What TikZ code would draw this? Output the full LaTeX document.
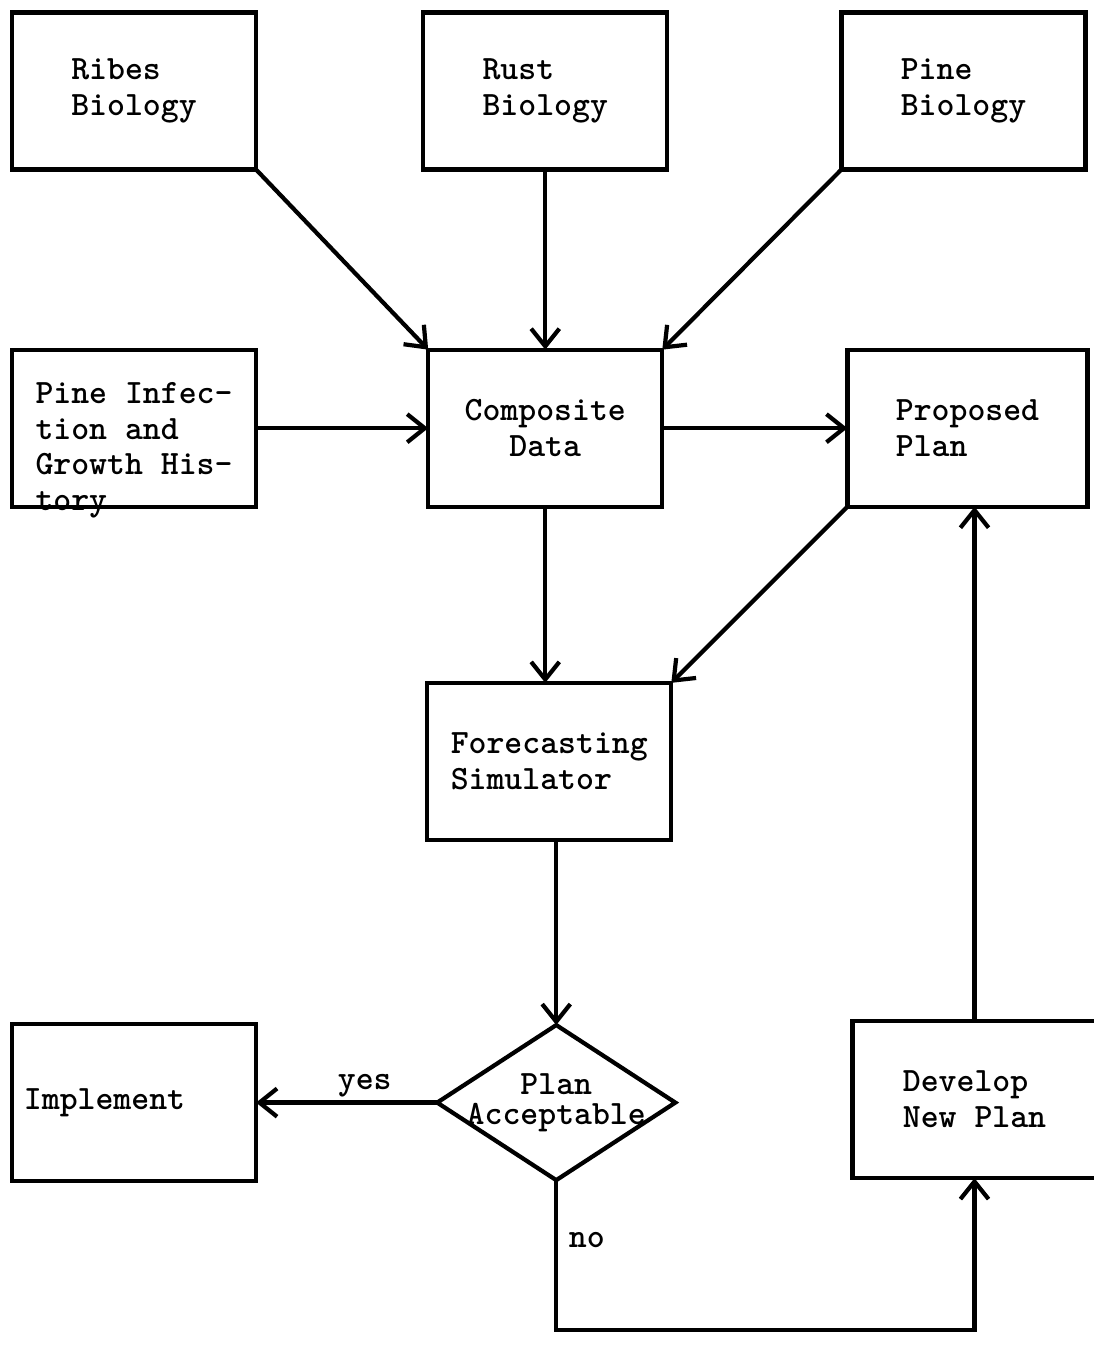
\documentclass[tikz,border=0pt]{standalone}
\usepackage{fontspec}
\usepackage{tikz}
\usetikzlibrary{shapes,arrows.meta,positioning,calc}

\begin{document}
\begin{tikzpicture}[
    x=0.01cm, y=-0.01cm,
    font=\ttfamily\bfseries\fontsize{9.7}{10.2}\selectfont,
    box/.style={rectangle, draw, line width=1.2pt, outer sep=0pt, align=left, minimum width=2.44cm, minimum height=1.57cm},
    test/.style={diamond, draw, line width=1.2pt, outer sep=0pt, align=center, aspect=1.54, inner sep=-2pt, minimum width=2.38cm, minimum height=1.55cm},
    lbl/.style={inner sep=1pt},
    arrow/.style={-{Straight Barb[length=5pt,width=8pt]}, line width=1.2pt}
]
    \useasboundingbox (0,0) rectangle (1093,1349);

    \node[box] (ribes) at (134,91) {Ribes\\Biology};
    \node[box, right=1.67cm of ribes] (rust) {Rust\\Biology};
    \node[box, right=1.74cm of rust] (pinebio) {Pine\\Biology};
    \node[box, below=1.8cm of ribes] (infect) {};
    \node[lbl, align=left] (infecttxt) at ([yshift=-0.22cm]infect.center) {Pine Infec-\\tion and\\Growth His-\\tory};
    \node[box, align=center, minimum width=2.34cm, right=1.72cm of infect] (comp) {Composite\\Data};
    \node[box, minimum width=2.4cm, right=1.85cm of comp] (plan) {Proposed\\Plan};
    \node[box, below=1.76cm of comp, xshift=0.04cm] (sim) {Forecasting\\Simulator};
    \node[test, below=1.85cm of sim, xshift=0.07cm] (accept) {Plan\\[-1.5pt]Acceptable};
    \node[box, left=1.81cm of accept, text width=2.2cm, inner xsep=0.12cm] (impl) {Implement};
    \node[box, right=1.77cm of accept, yshift=0.03cm] (newplan) {Develop\\New Plan};
    \coordinate (turn) at ([yshift=-1.5cm]accept.south);

    \draw[arrow] (ribes.south east) -- (comp.north west);
    \draw[arrow] (rust.south) -- (comp.north);
    \draw[arrow] (pinebio.south west) -- (comp.north east);
    \draw[arrow] (infect.east) -- (comp.west);
    \draw[arrow] (comp.east) -- (plan.west);
    \draw[arrow] (comp.south) -- (comp.south |- sim.north);
    \draw[arrow] (plan.south west) -- (sim.north east);
    \draw[arrow] (sim.south -| accept.north) -- (accept.north);
    \draw[arrow] (accept.west) -- node[lbl, above, pos=0.4] (yes) {yes} (impl.east);
    \draw[arrow] (accept.south) -- node[lbl, right, pos=0.4, xshift=2pt] (no) {no} (turn) -| (newplan.south);
    \draw[arrow] (newplan.north) -- (newplan.north |- plan.south);
\end{tikzpicture}
\end{document}
